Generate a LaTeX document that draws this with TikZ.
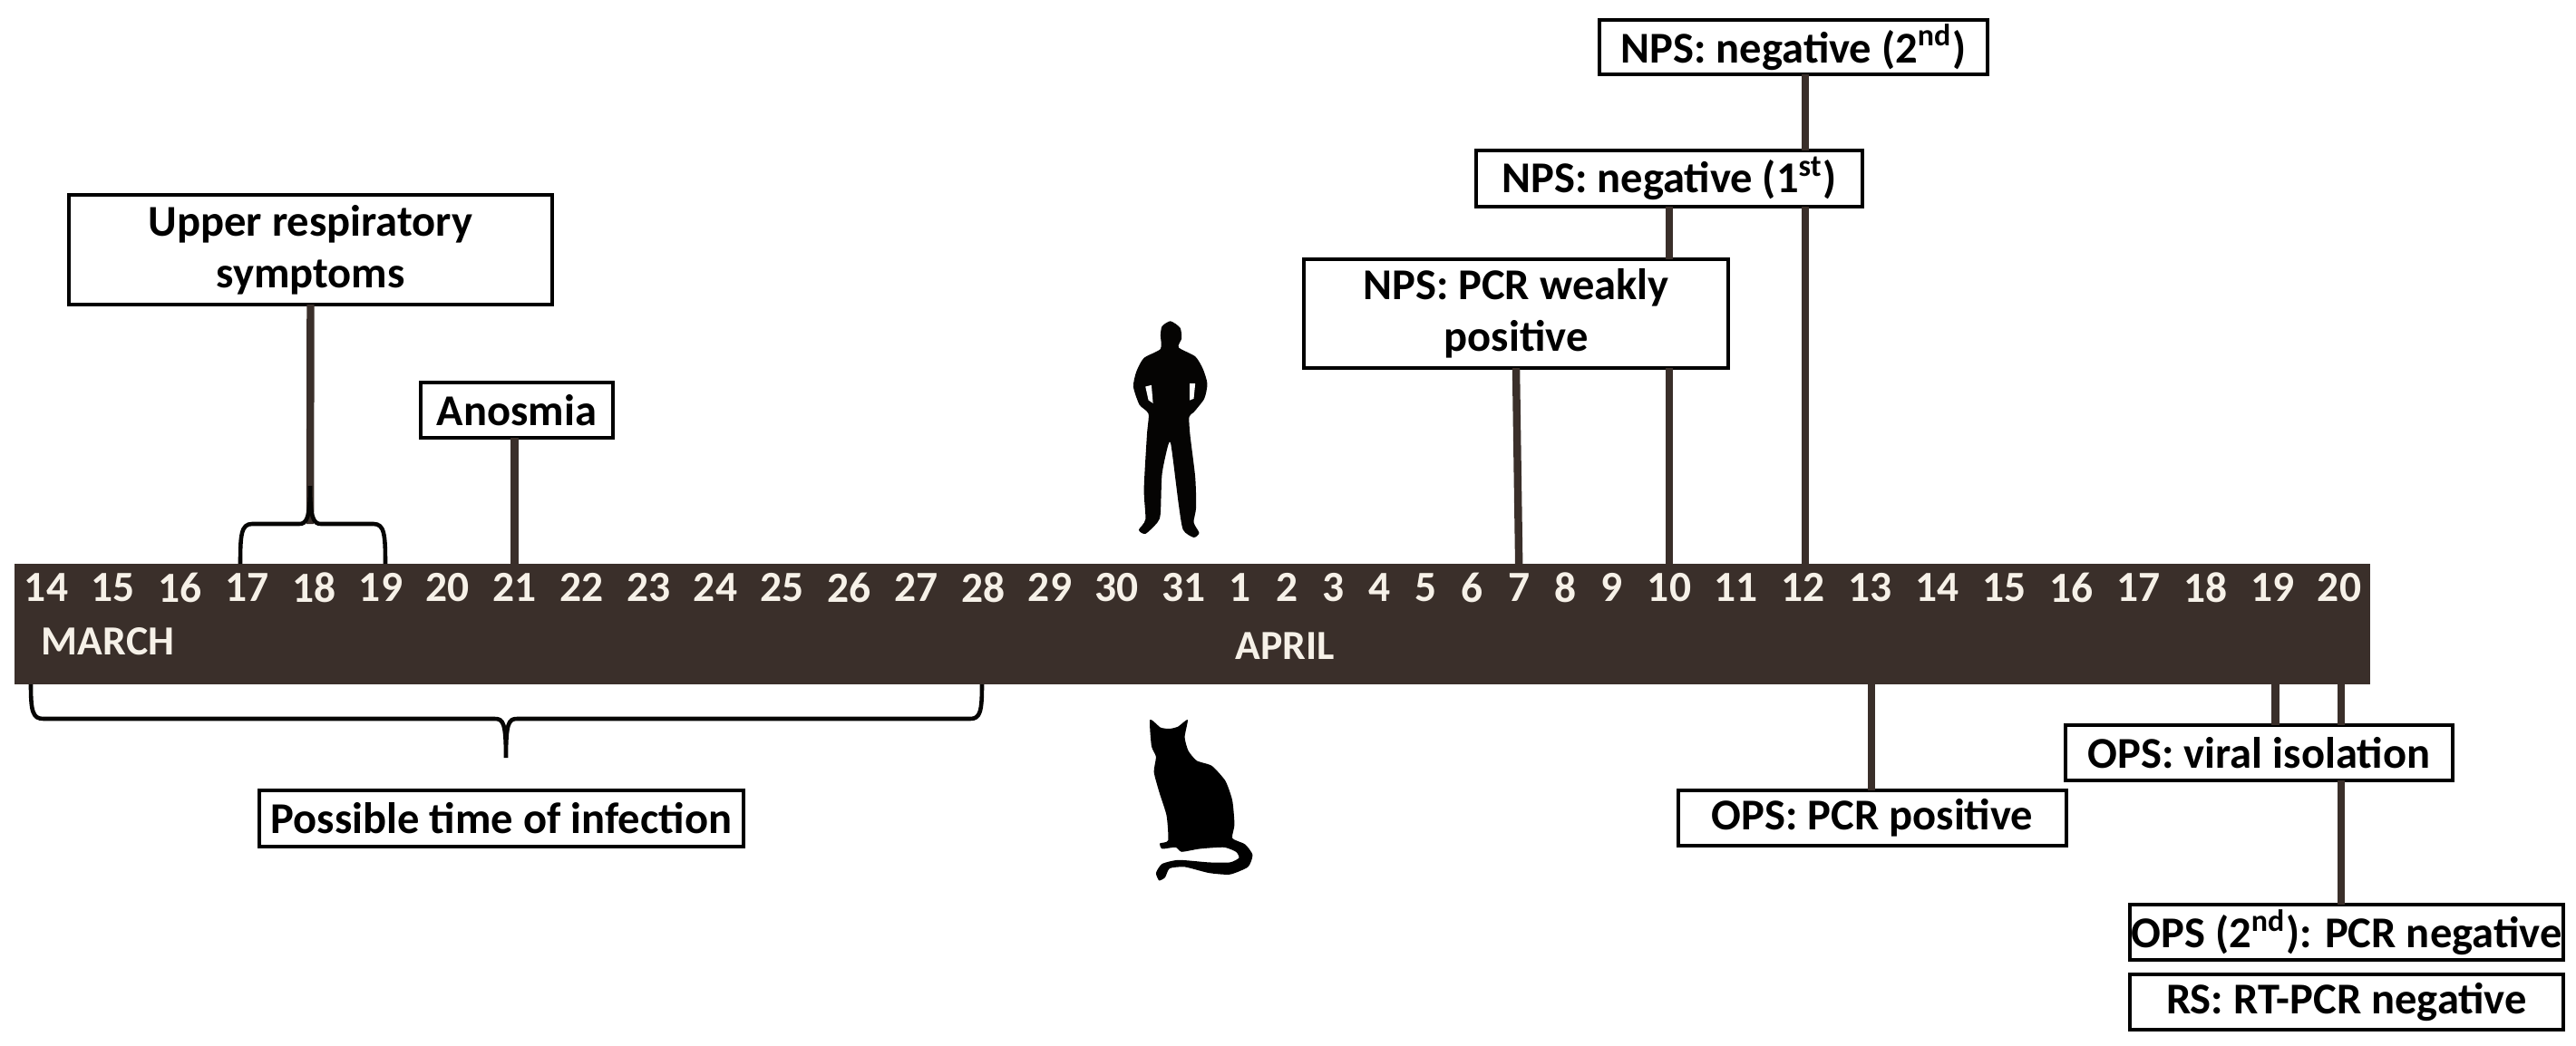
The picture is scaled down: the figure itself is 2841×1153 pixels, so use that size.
\documentclass[tikz,border=0pt]{standalone}
\usepackage{fontspec}
\setmainfont{Carlito}
\usepackage{tikz}

\definecolor{barbrown}{HTML}{3A2F2A}
\definecolor{daywhite}{HTML}{F6F1E8}

\tikzset{
	timebox/.style={draw=black, fill=white, line width=1.2pt, inner sep=0pt, outer sep=0pt, align=center, font=\fontsize{13.8}{16.2}\selectfont\bfseries},
	daylabel/.style={text=daywhite, inner sep=0pt, font=\fontsize{13.5}{14}\selectfont\bfseries},
	monthlabel/.style={text=daywhite, inner sep=0pt, font=\fontsize{13}{14}\selectfont\bfseries},
	stem/.style={draw=barbrown, line width=2.4pt},
	bracket/.style={draw=black!90!barbrown, line width=1.3pt}
}

\begin{document}
\begin{tikzpicture}[x=0.01cm, y=-0.01cm]
	\useasboundingbox (0,0) rectangle (2841,1153);
	
	% --- time bar ---
	\node[fill=barbrown, inner sep=0pt, outer sep=0pt, minimum width=25.96cm, minimum height=1.33cm] (bar) at (1315,688.5) {};
	
	% March days 14--31, April days 1--9 and 10--20
	\foreach \d [evaluate=\d as \xd using 51+73.8*(\d-14)] in {14,...,31}
		\node[daylabel] (m\d) at (\xd,648) {\d};
	\foreach \d [evaluate=\d as \xd using 1368+51.2*(\d-1)] in {1,...,9}
		\node[daylabel] (a\d) at (\xd,648) {\d};
	\foreach \d [evaluate=\d as \xd using 1841+73.9*(\d-10)] in {10,...,20}
		\node[daylabel] (a\d) at (\xd,648) {\d};
	
	\node[monthlabel] (march) at (119,708) {MARCH};
	\node[monthlabel] (april) at (1417,713) {APRIL};
	
	% --- events above the bar ---
	\node[timebox, minimum width=5.33cm, minimum height=1.21cm] (upper) at (342.5,275.5) {Upper respiratory\\symptoms};
	\node[timebox, minimum width=2.12cm, minimum height=0.61cm] (anosmia) at (570,452.5) {Anosmia};
	\node[timebox, minimum width=4.68cm, minimum height=1.20cm] (weak) at (1672,346) {NPS: PCR weakly\\positive};
	\node[timebox, minimum width=4.26cm, minimum height=0.62cm] (neg1) at (1841,197) {NPS: negative (1\textsuperscript{st})};
	\node[timebox, minimum width=4.28cm, minimum height=0.60cm] (neg2) at (1978,52) {NPS: negative (2\textsuperscript{nd})};
	
	% brace over 17--19
	\coordinate (uppertip) at (342,578);
	\draw[stem] (upper.south) -- (uppertip);
	\draw[bracket] (265,622) .. controls (265,590) and (266,578) .. (278,578) -- (330,578)
		.. controls (338,578) and (342,572) .. (342,536)
		.. controls (342,572) and (346,578) .. (354,578) -- (412,578)
		.. controls (424,578) and (425,590) .. (425,622);
	
	\draw[stem] (anosmia.south -| m21) -- (m21 |- bar.north);
	\draw[stem] (weak.south) -- (a7 |- bar.north);
	\draw[stem] (neg1.south -| a10) -- (a10 |- weak.north);
	\draw[stem] (weak.south -| a10) -- (a10 |- bar.north);
	\draw[stem] ([xshift=0.6pt]a12 |- neg2.south) -- ([xshift=0.6pt]a12 |- neg1.north);
	\draw[stem] ([xshift=0.6pt]a12 |- neg1.south) -- ([xshift=0.6pt]a12 |- bar.north);
	
	% --- events below the bar ---
	\node[timebox, minimum width=5.34cm, minimum height=0.62cm] (infection) at (553,903) {Possible time of infection};
	\node[timebox, minimum width=4.28cm, minimum height=0.61cm] (opspos) at (2065,902.5) {OPS: PCR positive};
	\node[timebox, minimum width=4.27cm, minimum height=0.61cm] (viral) at (2491.5,830.5) {OPS: viral isolation};
	\node[timebox, minimum width=4.78cm, minimum height=0.61cm] (opsneg) at (2588,1028.5) {OPS (2\textsuperscript{nd}): PCR negative};
	\node[timebox, minimum width=4.78cm, minimum height=0.61cm] (rsneg) at (2588,1105.5) {RS: RT-PCR negative};
	
	% brace under 14--28
	\draw[bracket] (34,755) .. controls (34,785) and (36,793) .. (48,793) -- (546,793)
		.. controls (555,793) and (558,798) .. (558,836)
		.. controls (558,798) and (561,793) .. (570,793) -- (1070,793)
		.. controls (1081,793) and (1083,785) .. (1083,755);
	
	\draw[stem] ([xshift=0.3pt]a13 |- bar.south) -- ([xshift=0.3pt]a13 |- opspos.north);
	\draw[stem] ([xshift=0.9pt]a19 |- bar.south) -- ([xshift=0.9pt]a19 |- viral.north);
	\draw[stem] ([xshift=0.6pt]a20 |- bar.south) -- ([xshift=0.6pt]a20 |- viral.north);
	\draw[stem] ([xshift=0.6pt]a20 |- viral.south) -- ([xshift=0.6pt]a20 |- opsneg.north);
	
	% --- man ---
	\begin{scope}[shift={(1220,340)}, x=0.003333cm, y=-0.003333cm]
		\fill[black!92!barbrown] plot[smooth cycle, tension=0.4] coordinates {
			(213,43) (245,65) (250,100) (240,130) (295,160) (320,200) (335,250) (325,300)
			(290,345) (275,360) (278,420) (295,560) (298,660) (290,710) (308,745) (290,760)
			(255,735) (240,650) (215,455) (205,455) (185,550) (180,680) (170,710) (130,748)
			(108,735) (130,700) (125,600) (135,420) (140,350) (110,320) (90,260) (100,210)
			(125,165) (180,135) (180,90) (185,60)};
		\fill[white] (130,260) -- (150,255) -- (155,315) -- (140,305) -- cycle;
		\fill[white] (277,250) -- (295,250) -- (290,300) -- (277,305) -- cycle;
	\end{scope}
	
	% --- cat ---
	\begin{scope}[shift={(1240,780)}, x=0.003333cm, y=-0.003333cm]
		\fill[black] plot[smooth cycle, tension=0.35] coordinates {
			(85,42) (120,68) (150,72) (178,65) (210,42) (200,100) (212,145) (240,178)
			(290,195) (335,245) (358,310) (365,390) (358,435) (400,455) (425,490) (410,530)
			(350,555) (280,550) (200,530) (150,535) (135,565) (115,575) (105,550) (125,520)
			(180,507) (280,515) (350,515) (380,500) (370,480) (330,465) (250,470) (190,480)
			(170,465) (125,470) (118,452) (145,442) (140,360) (115,280) (98,215) (105,165)
			(90,130)};
	\end{scope}
	
\end{tikzpicture}
\end{document}
